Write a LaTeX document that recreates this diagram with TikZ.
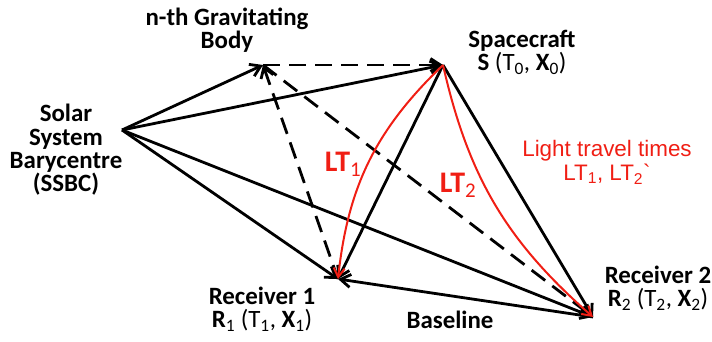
\documentclass[tikz,border=0pt]{standalone}
\usepackage{fontspec}
\setsansfont{Carlito}
\newfontfamily\arialfont{Liberation Sans}
\usetikzlibrary{arrows.meta, positioning}
\definecolor{lightred}{RGB}{240,30,20}
\newcommand{\sub}[1]{\textsubscript{\mdseries #1}}

\begin{document}
\begin{tikzpicture}[x=1bp, y=-1bp,
  vec/.style={-{Straight Barb[length=10bp,width=13bp]}, line width=2.8bp},
  dvec/.style={vec, dash pattern=on 17bp off 9bp},
  lt/.style={-{Straight Barb[length=9bp,width=11bp]}, line width=2bp, draw=lightred},
  lbl/.style={font=\sffamily\bfseries\fontsize{25}{23.5}\selectfont,
    align=center, inner sep=0pt},
  ltlbl/.style={lbl, text=lightred, font=\sffamily\bfseries\fontsize{30}{30}\selectfont},
  note/.style={font=\arialfont\fontsize{22.5}{24}\selectfont, text=lightred,
    align=center, inner sep=0pt}
]
  \useasboundingbox (0,0) rectangle (712,341);

  \coordinate (ssbc) at (122,130);
  \coordinate (nbody) at (263,65);
  \coordinate (craft) at (443,65);
  \coordinate (rx1) at (338,279);
  \coordinate (rx2) at (593,317);

  \node[lbl] (bodylbl) at (227,30) {n-th Gravitating\\Body};
  \node[lbl] (craftlbl) at (522,52) {Spacecraft\\S {\mdseries(T\sub{0},} X\sub{0}{\mdseries)}};
  \node[lbl] (ssbclbl) at (66,150) {Solar\\System\\Barycentre\\(SSBC)};
  \node[lbl] (rx1lbl) at (262,309) {Receiver 1\\R\sub{1} {\mdseries(T\sub{1},} X\sub{1}{\mdseries)}};
  \node[lbl] (rx2lbl) at (658,288) {Receiver 2\\R\sub{2} {\mdseries(T\sub{2},} X\sub{2}{\mdseries)}};
  \node[lbl] (baselbl) at (450,320) {Baseline};
  \node[ltlbl] (lt1lbl) at (343,164) {LT\sub{1}};
  \node[ltlbl] (lt2lbl) at (458,185) {LT\sub{2}};
  \node[note] (ltnote) at (607,162) {Light travel times\\LT\textsubscript{1}, LT\textsubscript{2}`};

  % from the barycentre
  \draw[vec] (ssbc) -- (nbody);
  \draw[vec] (ssbc) -- (craft);
  \draw[vec] (ssbc) -- (rx1);
  \draw[vec] (ssbc) -- (rx2);

  % gravitating body
  \draw[dvec] (nbody) -- (craft);
  \draw[dvec, {Straight Barb[length=10bp,width=13bp]}-] (nbody) -- (rx1);
  \draw[dvec] (nbody) -- (rx2);

  % spacecraft and receivers
  \draw[vec] (craft) -- (rx1);
  \draw[vec] (craft) -- (rx2);
  \draw[vec] (rx2) -- (rx1);

  % light paths
  \draw[lt] (craft) to[bend right=20] (rx1);
  \draw[lt] (craft) to[bend right=18] (rx2);
\end{tikzpicture}
\end{document}
